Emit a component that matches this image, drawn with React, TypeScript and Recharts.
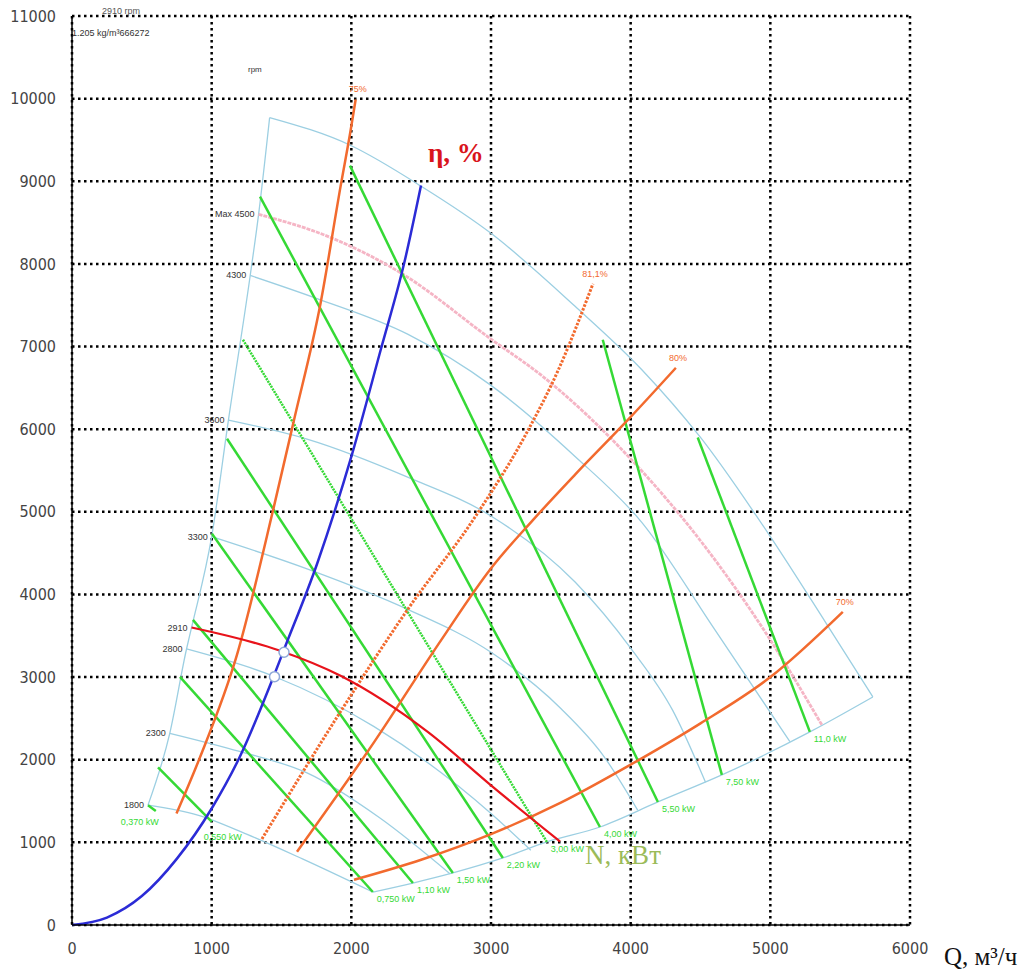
import React from "react";
import { LineChart, Line, XAxis, YAxis, CartesianGrid, ReferenceDot } from "recharts";

type Pt = { q: number; p: number };
const pts = (arr: number[][]): Pt[] => arr.map(([q, p]) => ({ q, p }));

// axis ticks
const qTicks = [0, 1000, 2000, 3000, 4000, 5000, 6000];
const pTicks = [0, 1000, 2000, 3000, 4000, 5000, 6000, 7000, 8000, 9000, 10000, 11000];
const qMinor = Array.from({ length: 61 }, (_, i) => i * 100);
const pMinor = Array.from({ length: 111 }, (_, i) => i * 100);

// envelope (light blue)
const outerCurve = pts([[1415, 9771], [2000, 9430], [2500, 8940], [3000, 8370], [3600, 7490], [4080, 6720], [4500, 5900], [5000, 4700], [5400, 3650], [5734, 2760]]);
const leftBoundary = pts([[544, 1450], [700, 2320], [820, 3340], [856, 3600], [1000, 4700], [1120, 6110], [1276, 7860], [1336, 8600], [1415, 9771]]);
const rightBoundary = pts([[2154, 399], [2441, 508], [2727, 630], [3085, 811], [3400, 1005], [3780, 1186], [4195, 1489], [4653, 1816], [5283, 2337], [5734, 2760]]);

// rpm curves
const rpmMax = pts([[1336, 8600], [1851, 8320], [2355, 7890], [3000, 7090], [3362, 6650], [4000, 5640], [4500, 4650], [5000, 3450], [5369, 2421]]);
const rpm4300 = pts([[1276, 7860], [1755, 7580], [2403, 7150], [3000, 6530], [3602, 5670], [4081, 4870], [4600, 3580], [5140, 2220]]);
const rpm3600 = pts([[1120, 6110], [1683, 5880], [2403, 5420], [3000, 4950], [3602, 4150], [4000, 3350], [4300, 2600], [4536, 1727]]);
const rpm3300 = pts([[1000, 4700], [1683, 4310], [2403, 3820], [3000, 3300], [3500, 2620], [3800, 2060], [4050, 1390]]);
const rpm2910 = pts([[856, 3600], [1480, 3324], [1923, 3015], [2547, 2336], [3000, 1690], [3494, 1010]]);
const rpm2800 = pts([[820, 3340], [1444, 3010], [2163, 2400], [3000, 1350], [3285, 905]]);
const rpm2300 = pts([[700, 2320], [1200, 2100], [1683, 1840], [2200, 1300], [2706, 620]]);
const rpm1800 = pts([[544, 1450], [900, 1330], [1250, 1100], [1650, 800], [2154, 399]]);

const rpmLabels = [
  { q: 1336, p: 8600, text: "Max 4500" },
  { q: 1276, p: 7860, text: "4300" },
  { q: 1120, p: 6110, text: "3600" },
  { q: 1000, p: 4700, text: "3300" },
  { q: 856, p: 3600, text: "2910" },
  { q: 820, p: 3340, text: "2800" },
  { q: 700, p: 2320, text: "2300" },
  { q: 544, p: 1450, text: "1800" },
];

// power lines (kW)
const kwNames = ["0,370 kW", "0,550 kW", "0,750 kW", "1,10 kW", "1,50 kW", "2,20 kW", "3,00 kW", "4,00 kW", "5,50 kW", "7,50 kW", "11,0 kW"];
const kwLines = [
  pts([[544, 1450], [600, 1380]]),
  pts([[616, 1906], [1000, 1250]]),
  pts([[773, 3002], [2154, 399]]),
  pts([[866, 3692], [2441, 508]]),
  pts([[1002, 4734], [2727, 630]]),
  pts([[1110, 5884], [3085, 811]]),
  pts([[1224, 7082], [3400, 1005]]),
  pts([[1346, 8814], [3780, 1186]]),
  pts([[1990, 9189], [4195, 1489]]),
  pts([[3800, 7082], [4653, 1816]]),
  pts([[4480, 5900], [5283, 2337]]),
];

// efficiency lines
const effNames = ["75%", "81,1%", "80%", "70%"];
const effLines = [
  pts([[748, 1349], [916, 2028], [1180, 3262], [1444, 5051], [1588, 6100], [1779, 7519], [1923, 8938], [1995, 9617], [2031, 9990]]),
  pts([[1360, 1041], [1923, 2583], [2403, 3817], [2882, 4928], [3242, 5915], [3482, 6717], [3730, 7760]]),
  pts([[1611, 887], [2163, 2213], [2643, 3447], [2998, 4311], [3300, 4900], [3602, 5450], [3990, 6130], [4324, 6743]]),
  pts([[2019, 547], [2500, 790], [3000, 1100], [3500, 1480], [4000, 1940], [4500, 2440], [5000, 3000], [5519, 3790]]),
];

// system curve
const systemCurve = pts([[0, 0], [250, 90], [500, 350], [750, 800], [1000, 1410], [1200, 2030], [1444, 3010], [1516, 3324], [1755, 4372], [2000, 5668], [2211, 6964], [2379, 8013], [2499, 8950]]);
const workPoints = pts([[1518, 3300], [1450, 3005]]);

const LIGHT_BLUE = "#9ccfe2";
const GREEN = "#35d935";
const ORANGE = "#f26a2e";
const BLUE = "#2b2bd6";
const RED = "#e8131b";
const PINK = "#f5b5c5";

const tickFont = { fontSize: 16, fill: "#444", fontFamily: '"Liberation Sans Narrow", "DejaVu Sans Condensed", sans-serif' };

const textShape = (text: string, dx: number, dy: number, anchor: string, fill: string, size: number) => (props: any) => (
  <text x={props.cx + dx} y={props.cy + dy} textAnchor={anchor} fill={fill} fontSize={size} fontFamily="Arial, Liberation Sans, sans-serif">
    {text}
  </text>
);

export default function App() {
  return (
    <div style={{ position: "relative", width: 1019, height: 965 }}>
      <LineChart width={1019} height={965} margin={{ top: 8, right: 117, bottom: 18, left: 0 }}>
        <CartesianGrid stroke="#000" strokeWidth={2.5} strokeDasharray="2.5 3.5" />
        <XAxis xAxisId={0} type="number" dataKey="q" domain={[0, 6000]} ticks={qTicks} interval={0} tickLine={false} axisLine={{ stroke: "#000", strokeWidth: 1.5 }} tick={tickFont} tickMargin={12} height={30} />
        <XAxis xAxisId="minor" type="number" dataKey="q" domain={[0, 6000]} ticks={qMinor} interval={0} tickFormatter={() => ""} tickSize={4} axisLine={false} tickLine={{ stroke: "#000" }} height={0} />
        <XAxis xAxisId="top" orientation="top" type="number" dataKey="q" domain={[0, 6000]} ticks={qMinor} interval={0} tickFormatter={() => ""} tickSize={4} mirror axisLine={{ stroke: "#000", strokeWidth: 1.5 }} tickLine={{ stroke: "#000" }} height={0} />
        <YAxis yAxisId={0} type="number" domain={[0, 11000]} ticks={pTicks} interval={0} tickLine={false} axisLine={{ stroke: "#000", strokeWidth: 1.5 }} tick={tickFont} tickMargin={10} width={64} />
        <YAxis yAxisId="minor" type="number" domain={[0, 11000]} ticks={pMinor} interval={0} tickFormatter={() => ""} tickSize={4} mirror axisLine={false} tickLine={{ stroke: "#000" }} width={0} />

        <Line data={outerCurve} dataKey="p" type="monotone" stroke={LIGHT_BLUE} strokeWidth={1.3} dot={false} isAnimationActive={false} />
        <Line data={leftBoundary} dataKey="p" type="monotone" stroke={LIGHT_BLUE} strokeWidth={1.3} dot={false} isAnimationActive={false} />
        <Line data={rightBoundary} dataKey="p" type="monotone" stroke={LIGHT_BLUE} strokeWidth={1.3} dot={false} isAnimationActive={false} />
        {[rpm4300, rpm3600, rpm3300, rpm2800, rpm2300, rpm1800].map((d, i) => (
          <Line key={"rpm" + i} data={d} dataKey="p" type="monotone" stroke={LIGHT_BLUE} strokeWidth={1.3} dot={false} isAnimationActive={false} />
        ))}
        <Line data={rpmMax} dataKey="p" type="monotone" stroke={PINK} strokeWidth={2.8} strokeDasharray="4 1" dot={false} isAnimationActive={false} />

        {kwLines.map((d, i) => (
          <Line key={"kw" + i} data={d} dataKey="p" type="linear" stroke={GREEN} strokeWidth={2.5} strokeDasharray={i === 6 ? "2 1" : undefined} dot={false} isAnimationActive={false} />
        ))}

        {effLines.map((d, i) => (
          <Line key={"eff" + i} data={d} dataKey="p" type="monotone" stroke={ORANGE} strokeWidth={i === 1 ? 3 : 2.5} strokeDasharray={i === 1 ? "2.5 1.5" : undefined} dot={false} isAnimationActive={false} />
        ))}

        <Line data={rpm2910} dataKey="p" type="monotone" stroke={RED} strokeWidth={2.2} dot={false} isAnimationActive={false} />
        <Line data={systemCurve} dataKey="p" type="monotone" stroke={BLUE} strokeWidth={2.5} dot={false} isAnimationActive={false} />

        {workPoints.map((w, i) => (
          <ReferenceDot key={"wp" + i} x={w.q} y={w.p} r={5} fill="#fff" stroke="#8fa8d8" strokeWidth={1.5} />
        ))}

        {rpmLabels.map((l) => (
          <ReferenceDot key={l.text} x={l.q} y={l.p} r={1} ifOverflow="visible" shape={textShape(l.text, -4, 3, "end", "#333", 9)} />
        ))}
        {kwLines.map((d, i) => (
          <ReferenceDot key={"kwl" + i} x={d[d.length - 1].q} y={d[d.length - 1].p} r={1} ifOverflow="visible"
            shape={i === 0 ? textShape(kwNames[i], -35, 14, "start", GREEN, 9) : textShape(kwNames[i], i === 1 ? -8 : 4, i === 1 ? 18 : 10, "start", GREEN, 9)} />
        ))}
        {effLines.map((d, i) => (
          <ReferenceDot key={"effl" + i} x={d[d.length - 1].q} y={d[d.length - 1].p} r={1} ifOverflow="visible" shape={textShape(effNames[i], 2, -7, "middle", ORANGE, 9)} />
        ))}
      </LineChart>

      <div style={{ position: "absolute", left: 94, top: -2, fontSize: 9, color: "#555", fontFamily: "Arial, sans-serif" }}>2910 rpm</div>
      <div style={{ position: "absolute", left: 64, top: 20, fontSize: 9, color: "#333", fontFamily: "Arial, sans-serif" }}>1.205 kg/m³666272</div>
      <div style={{ position: "absolute", left: 240, top: 57, fontSize: 8, color: "#333", fontFamily: "Arial, sans-serif" }}>rpm</div>
      <div style={{ position: "absolute", left: 420, top: 130, fontSize: 27, color: "#d9141c", fontWeight: "bold", fontFamily: '"Liberation Serif", serif' }}>η, %</div>
      <div style={{ position: "absolute", left: 577, top: 832, fontSize: 27, color: "#9bbb59", fontFamily: '"Liberation Serif", serif' }}>N, кВт</div>
      <div style={{ position: "absolute", left: 936, top: 935, fontSize: 25, color: "#111", fontFamily: '"Liberation Serif", serif' }}>Q, м³/ч</div>
    </div>
  );
}
